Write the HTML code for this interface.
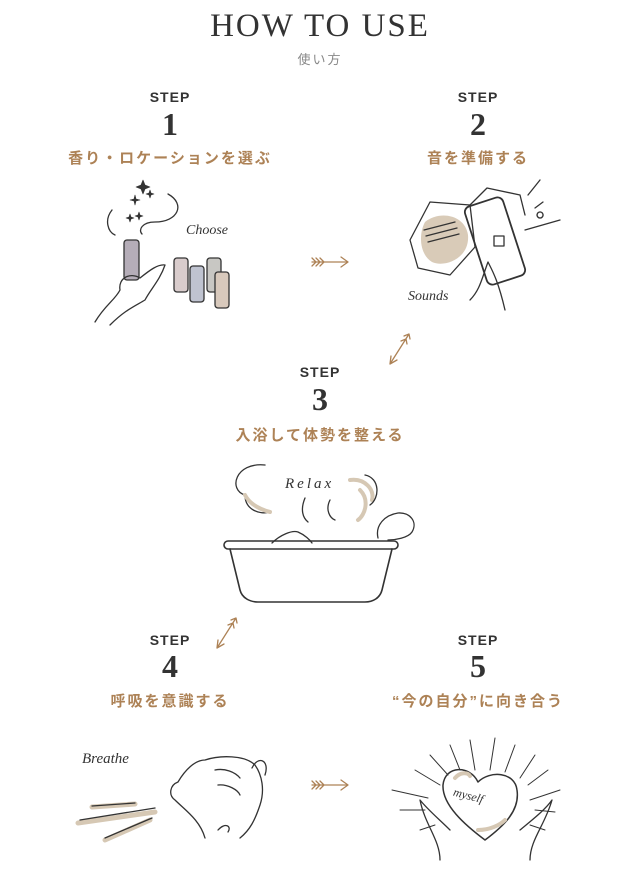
<!DOCTYPE html>
<html><head><meta charset="utf-8"><style>
html,body{margin:0;padding:0;background:#fff;}
body{width:640px;height:878px;position:relative;overflow:hidden;font-family:"Liberation Sans","Noto Sans CJK JP",sans-serif;}
.t{position:absolute;transform:translateX(-50%);white-space:nowrap;text-align:center;}
.step{font-size:14px;font-weight:bold;color:#333;letter-spacing:1px;}
.num{font-family:"Liberation Serif",serif;font-weight:bold;font-size:32px;color:#333;}
.lab{font-size:15px;font-weight:bold;color:#ad8256;letter-spacing:2px;}
svg{position:absolute;left:0;top:0;}
</style></head><body>
<div class="t" style="left:320px;top:8px;font-family:'Liberation Serif',serif;font-size:33px;color:#333;letter-spacing:2px;">HOW TO USE</div>
<div class="t" style="left:320px;top:49px;font-size:13px;color:#888;letter-spacing:2px;">使い方</div>

<div class="t step" style="left:170px;top:89px;">STEP</div>
<div class="t num" style="left:170px;top:106px;">1</div>
<div class="t lab" style="left:170px;top:147px;">香り・ロケーションを選ぶ</div>

<div class="t step" style="left:478px;top:89px;">STEP</div>
<div class="t num" style="left:478px;top:106px;">2</div>
<div class="t lab" style="left:478px;top:147px;">音を準備する</div>

<div class="t step" style="left:320px;top:364px;">STEP</div>
<div class="t num" style="left:320px;top:381px;">3</div>
<div class="t lab" style="left:320px;top:424px;">入浴して体勢を整える</div>

<div class="t step" style="left:170px;top:632px;">STEP</div>
<div class="t num" style="left:170px;top:648px;">4</div>
<div class="t lab" style="left:170px;top:690px;">呼吸を意識する</div>

<div class="t step" style="left:478px;top:632px;">STEP</div>
<div class="t num" style="left:478px;top:648px;">5</div>
<div class="t lab" style="left:478px;top:690px;">“今の自分”に向き合う</div>

<svg width="640" height="878" viewBox="0 0 640 878" fill="none" stroke="#333" stroke-width="1.3" stroke-linecap="round" stroke-linejoin="round">
<!-- arrows -->
<g stroke="#ad8256">
<path d="M312 262 H348 M341 257 L348 262 L341 267 M312 258 l4 4 -4 4 M316 258 l4 4 -4 4 M320 258 l4 4 -4 4"/>
<path d="M312 785 H348 M341 780 L348 785 L341 790 M312 781 l4 4 -4 4 M316 781 l4 4 -4 4 M320 781 l4 4 -4 4"/>
<path d="M409 334 L390 364 M390 364 L391 356 M390 364 L397 360 M409 334 l-5 2 M409 334 l1 5 M406 339 l-5 2 M406 339 l1 5"/>
<path d="M236 618 L217 648 M217 648 L218 640 M217 648 L224 644 M236 618 l-5 2 M236 618 l1 5 M233 623 l-5 2 M233 623 l1 5"/>
</g>
<!-- step1 -->
<path d="M143 180 l2 5 5 2 -5 2 -2 5 -2 -5 -5 -2 5 -2z M135 195 l1 4 4 1 -4 1 -1 4 -1 -4 -4 -1 4 -1z M150 190 l1 3 3 1 -3 1 -1 3 -1 -3 -3 -1 3 -1z M130 214 l1 3 3 1 -3 1 -1 3 -1 -3 -3 -1 3 -1z M139 212 l1 3 3 1 -3 1 -1 3 -1 -3 -3 -1 3 -1z" fill="#333" stroke-width="0.6"/>
<path d="M112 210 C104 220 108 232 115 235 M168 194 C186 204 178 222 155 222 C142 222 138 230 142 234"/>
<text x="186" y="234" font-family="Liberation Serif,serif" font-style="italic" font-size="14" fill="#333" stroke="none">Choose</text>
<rect x="124" y="240" width="15" height="40" rx="3" fill="#b5adb8"/>
<rect x="174" y="258" width="14" height="34" rx="3" fill="#d9cccc"/>
<rect x="190" y="266" width="14" height="36" rx="3" fill="#bfc3d0"/>
<rect x="207" y="258" width="14" height="34" rx="3" fill="#c8c7c3"/>
<rect x="215" y="272" width="14" height="36" rx="3" fill="#d8c9bc"/>
<path d="M95 322 C105 305 115 300 120 290 C118 278 130 272 140 278 C150 270 158 264 165 265 C160 280 150 290 145 300 C135 306 125 310 110 325"/>
<!-- step2 -->
<path d="M410 240 L430 202 L470 205 L475 247 L450 275 L418 268 Z" />
<path d="M470 205 L487 188 L520 195 L525 215"/>
<path d="M425 222 C440 210 465 215 468 235 C470 258 445 268 432 262 C420 255 418 235 425 222Z" fill="#d9cbb8" stroke="none"/>
<path d="M424 230 L455 222 M426 236 L457 228 M428 242 L459 234"/>
<rect x="475" y="200" width="40" height="82" rx="6" transform="rotate(-18 495 241)" stroke-width="1.8"/>
<rect x="494" y="236" width="10" height="10"/>
<path d="M535 208 l8 -6 M540 212 a3 3 0 1 0 0.1 0 M525 230 L560 220 M528 195 L540 180"/>
<path d="M470 300 C480 290 482 278 488 262 C492 270 498 280 505 310"/>
<text x="408" y="300" font-family="Liberation Serif,serif" font-style="italic" font-size="14" fill="#333" stroke="none">Sounds</text>
<!-- step3 -->
<path d="M265 465 C235 462 228 490 245 495 C245 510 260 515 270 512" />
<path d="M245 495 C250 505 262 510 270 512 M350 480 C365 478 375 490 372 500 M360 490 C370 500 365 515 358 520" stroke="#d6c8b4" stroke-width="4"/>
<path d="M365 475 C380 478 380 498 370 505 M330 500 C325 510 330 518 335 520 M305 498 C300 510 303 518 308 522"/>
<text x="285" y="488" font-family="Liberation Serif,serif" font-style="italic" font-size="15" fill="#333" stroke="none" letter-spacing="3">Relax</text>
<path d="M272 543 C280 535 292 530 298 532 C305 535 310 540 312 543"/>
<path d="M378 538 C375 525 385 515 398 513 C410 512 418 522 412 532 C408 538 395 540 388 540"/>
<rect x="224" y="541" width="174" height="8" rx="4" stroke-width="1.6"/>
<path d="M230 549 L240 590 C242 598 250 602 258 602 L365 602 C373 602 380 598 382 590 L392 549" stroke-width="1.6"/>
<!-- step4 -->
<text x="82" y="763" font-family="Liberation Serif,serif" font-style="italic" font-size="15" fill="#333" stroke="none">Breathe</text>
<path d="M92 807 L135 804 M78 823 L155 812 M105 840 L150 820" stroke="#d6c8b4" stroke-width="5"/>
<path d="M92 806 L135 803 M80 820 L155 808 M105 838 L152 818"/>
<path d="M205 838 C200 820 185 810 175 800 C168 795 170 785 178 782 C185 770 195 760 205 760 C220 755 245 755 255 765 C262 775 265 790 260 805 C255 820 250 830 240 838"/>
<path d="M252 768 C258 755 270 760 265 775 M215 770 C225 768 235 772 240 778 M218 785 C228 784 238 790 240 795 M218 830 C225 822 232 826 228 832"/>
<!-- step5 -->
<g stroke-width="1">
<path d="M470 740 L475 770 M495 738 L490 770 M450 745 L460 770 M515 745 L505 772 M430 755 L448 775 M535 755 L520 778 M415 770 L440 785 M548 770 L528 785 M392 790 L428 798 M560 790 L530 800 M400 810 L425 810 M555 812 L535 810 M420 830 L435 825 M545 830 L530 825"/>
</g>
<path d="M478 782 C470 765 445 765 443 785 C442 805 465 825 485 840 C505 825 520 810 517 790 C515 772 490 770 478 782Z" stroke-width="1.5"/>
<path d="M455 778 C460 772 468 772 470 776 M478 830 C490 830 500 825 505 820" stroke="#d6c8b4" stroke-width="4"/>
<text x="452" y="800" font-family="Liberation Serif,serif" font-style="italic" font-size="12" fill="#333" stroke="none" transform="rotate(15 470 800)">myself</text>
<path d="M440 860 C440 840 425 825 420 800 C428 810 440 820 450 830 M530 860 C530 840 545 825 552 800 C545 810 532 820 520 830"/>
</svg>
</body></html>
